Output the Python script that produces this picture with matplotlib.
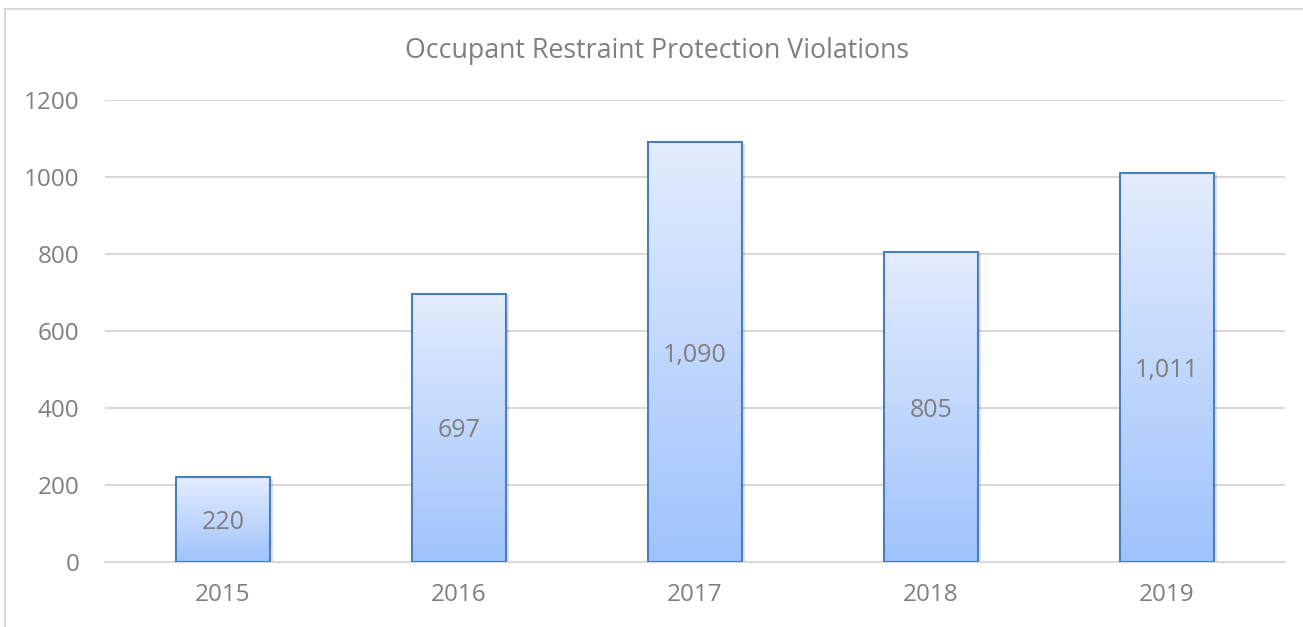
import matplotlib.pyplot as plt
import matplotlib.patches as patches
import matplotlib.transforms as mtransforms
from matplotlib.colors import LinearSegmentedColormap
import numpy as np

years = ["2015", "2016", "2017", "2018", "2019"]
violations = [220, 697, 1090, 805, 1011]
value_labels = ["220", "697", "1,090", "805", "1,011"]
y_ticks = [0, 200, 400, 600, 800, 1000, 1200]

plt.rcParams["font.family"] = ["Open Sans", "DejaVu Sans"]
text_gray = "#7f7f7f"
grid_gray = "#d9d9d9"

fig = plt.figure(figsize=(13.03, 6.27), dpi=100)
ax = fig.add_axes([0.0806, 0.1037, 0.9054, 0.7368])

# light frame around the whole chart
fig.patches.append(patches.Rectangle((5 / 1303, -0.01), 1.1, 1 - 9 / 627 + 0.01,
                                     transform=fig.transFigure, fill=False,
                                     edgecolor=grid_gray, linewidth=1.5))

# Bars with a vertical gradient (light at top, darker blue at the bottom)
grad = LinearSegmentedColormap.from_list("bar", ["#9fc3fc", "#e3ecfd"])
x = np.arange(len(years))
width = 0.4
bars = ax.bar(x, violations, width=width, facecolor="none", edgecolor="#4a7ebb",
              linewidth=1.5, zorder=4)
for b in bars:
    x0, h = b.get_x(), b.get_height()
    # subtle shadow
    ax.add_patch(patches.Rectangle((x0 + 0.012, -4), width, h, facecolor="#000000",
                                   alpha=0.12, edgecolor="none", zorder=2))
    ax.imshow(np.linspace(0, 1, 256).reshape(-1, 1), cmap=grad, origin="lower",
              aspect="auto", extent=[x0, x0 + width, 0, h], zorder=3)

# nudge labels down a few pixels to sit like the original
shift = mtransforms.offset_copy(ax.transData, fig=fig, x=0, y=-3, units="dots")
for xi, v, lab in zip(x, violations, value_labels):
    ax.text(xi, v / 2, lab, ha="center", va="center", fontsize=18, color=text_gray,
            zorder=5, transform=shift)

ax.set_xlim(-0.5, len(years) - 0.5)
ax.set_ylim(0, 1200)
ax.set_xticks(x)
ax.set_xticklabels(years)
ax.set_yticks(y_ticks)
ax.yaxis.grid(True, color=grid_gray, linewidth=1.5, zorder=0)
ax.set_axisbelow(True)
for s in ["top", "right", "left"]:
    ax.spines[s].set_visible(False)
ax.spines["bottom"].set_color(grid_gray)
ax.spines["bottom"].set_linewidth(1.5)
ax.tick_params(axis="both", length=0, labelsize=17.5, labelcolor=text_gray)
ax.tick_params(axis="y", pad=18.5)
ax.tick_params(axis="x", pad=15)

fig.text(0.5 + 6 / 1303, 1 - 51 / 627, "Occupant Restraint Protection Violations",
         ha="center", va="center", fontsize=19.3, color=text_gray)

fig.savefig("out.png", dpi=100)
